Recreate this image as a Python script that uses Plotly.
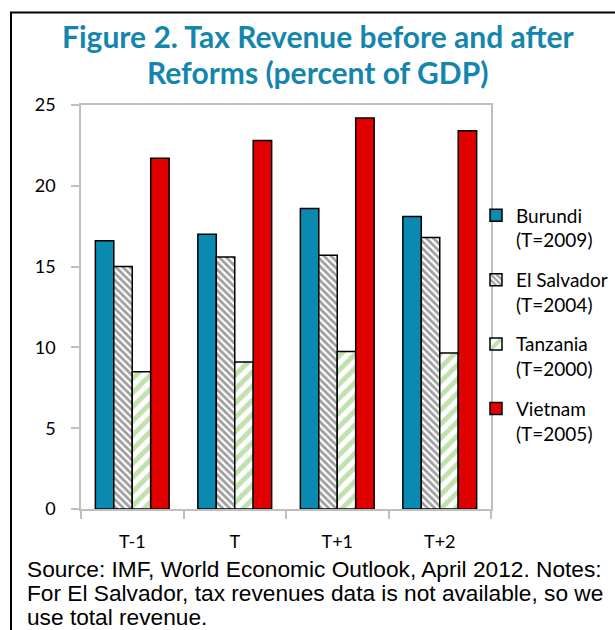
import plotly.graph_objects as go

# Periods relative to the reform year T
periods = ["T-1", "T", "T+1", "T+2"]

# Tax revenue, percent of GDP
burundi = [16.6, 17.0, 18.6, 18.1]
el_salvador = [15.0, 15.6, 15.7, 16.8]
tanzania = [8.5, 9.1, 9.75, 9.65]
vietnam = [21.7, 22.8, 24.2, 23.4]

series_names = [
    "Burundi<br>(T=2009)",
    "El Salvador<br>(T=2004)",
    "Tanzania<br>(T=2000)",
    "Vietnam<br>(T=2005)",
]

title_lines = ["Figure 2. Tax Revenue before and after", "Reforms (percent of GDP)"]
source_lines = [
    "Source: IMF, World Economic Outlook, April 2012. Notes:",
    "For El Salvador, tax revenues data is not available, so we",
    "use total revenue.",
]

W, H = 615, 630
L, R, T, B = 81, 491, 104.5, 509  # plot area edges in pixels


def px_x(x):
    return (x - L) / (R - L)


def px_y(y):
    return (B - y) / (B - T)


GRAY = "#BFBFBF"
TEAL = "#0A8AB0"
TITLE = "#1486AE"
RED = "#E00000"
GREEN = "#84C560"
FONT = "Lato"

outline = dict(color="black", width=1.5)

fig = go.Figure()
fig.add_trace(go.Bar(
    x=periods, y=burundi, name=series_names[0], legendgroup="a",
    marker=dict(color=TEAL, line=outline),
))
fig.add_trace(go.Bar(
    x=periods, y=el_salvador, name=series_names[1], legendgroup="b",
    marker=dict(color="white", line=outline,
                pattern=dict(shape="\\", fgcolor="#404040", bgcolor="white",
                             size=5, solidity=0.55, fillmode="overlay")),
))
fig.add_trace(go.Bar(
    x=periods, y=tanzania, name=series_names[2], legendgroup="c",
    marker=dict(color="white", line=outline,
                pattern=dict(shape="/", fgcolor=GREEN, bgcolor="white",
                             size=10, solidity=0.5, fillmode="overlay")),
))
fig.add_trace(go.Bar(
    x=periods, y=vietnam, name=series_names[3], legendgroup="d",
    marker=dict(color=RED, line=outline),
))

annotations = []
for text, yc in zip(title_lines, [35, 71]):
    annotations.append(dict(
        text=f"<b>{text}</b>", x=px_x(318), y=px_y(yc), xref="paper", yref="paper",
        xanchor="center", yanchor="middle", showarrow=False,
        font=dict(family=FONT, size=30, color=TITLE),
    ))
for text, yc in zip(source_lines, [569, 593, 617]):
    annotations.append(dict(
        text=text, x=px_x(25), y=px_y(yc), xref="paper", yref="paper",
        xanchor="left", yanchor="middle", showarrow=False,
        font=dict(family="Liberation Sans", size=22.7, color="black"),
    ))

# Outer frame: left and top black rules
shapes = [
    dict(type="line", xref="paper", yref="paper",
         x0=px_x(11), x1=px_x(11), y0=px_y(12), y1=px_y(640),
         line=dict(color="black", width=2)),
    dict(type="line", xref="paper", yref="paper",
         x0=px_x(10), x1=px_x(620), y0=px_y(12), y1=px_y(12),
         line=dict(color="black", width=2)),
]

fig.update_layout(
    width=W, height=H,
    margin=dict(l=L, r=W - R, t=T, b=H - B, pad=0, autoexpand=False),
    paper_bgcolor="white", plot_bgcolor="white",
    barmode="group", bargap=0.28, bargroupgap=0,
    font=dict(family=FONT, size=17, color="black"),
    showlegend=True,
    legend=dict(
        x=px_x(476), y=px_y(196), xanchor="left", yanchor="top",
        valign="top", tracegroupgap=12,
        font=dict(family=FONT, size=19, color="black"),
        bgcolor="rgba(0,0,0,0)", itemwidth=30,
    ),
    annotations=annotations,
    shapes=shapes,
)

fig.update_yaxes(
    range=[0, 25], dtick=5, showgrid=False, zeroline=False,
    showline=True, linecolor=GRAY, linewidth=1.5, mirror=True,
    ticks="outside", ticklen=8, tickcolor=GRAY, tickwidth=1.5,
    ticklabelstandoff=12,
    tickfont=dict(family=FONT, size=18),
)
fig.update_xaxes(
    showgrid=False, zeroline=False,
    showline=True, linecolor=GRAY, linewidth=1.5, mirror=True,
    ticks="outside", ticklen=8, tickcolor=GRAY, tickwidth=1.5,
    tickson="boundaries", ticklabelstandoff=16,
    tickfont=dict(family=FONT, size=18),
)

fig.write_html("out.html")
